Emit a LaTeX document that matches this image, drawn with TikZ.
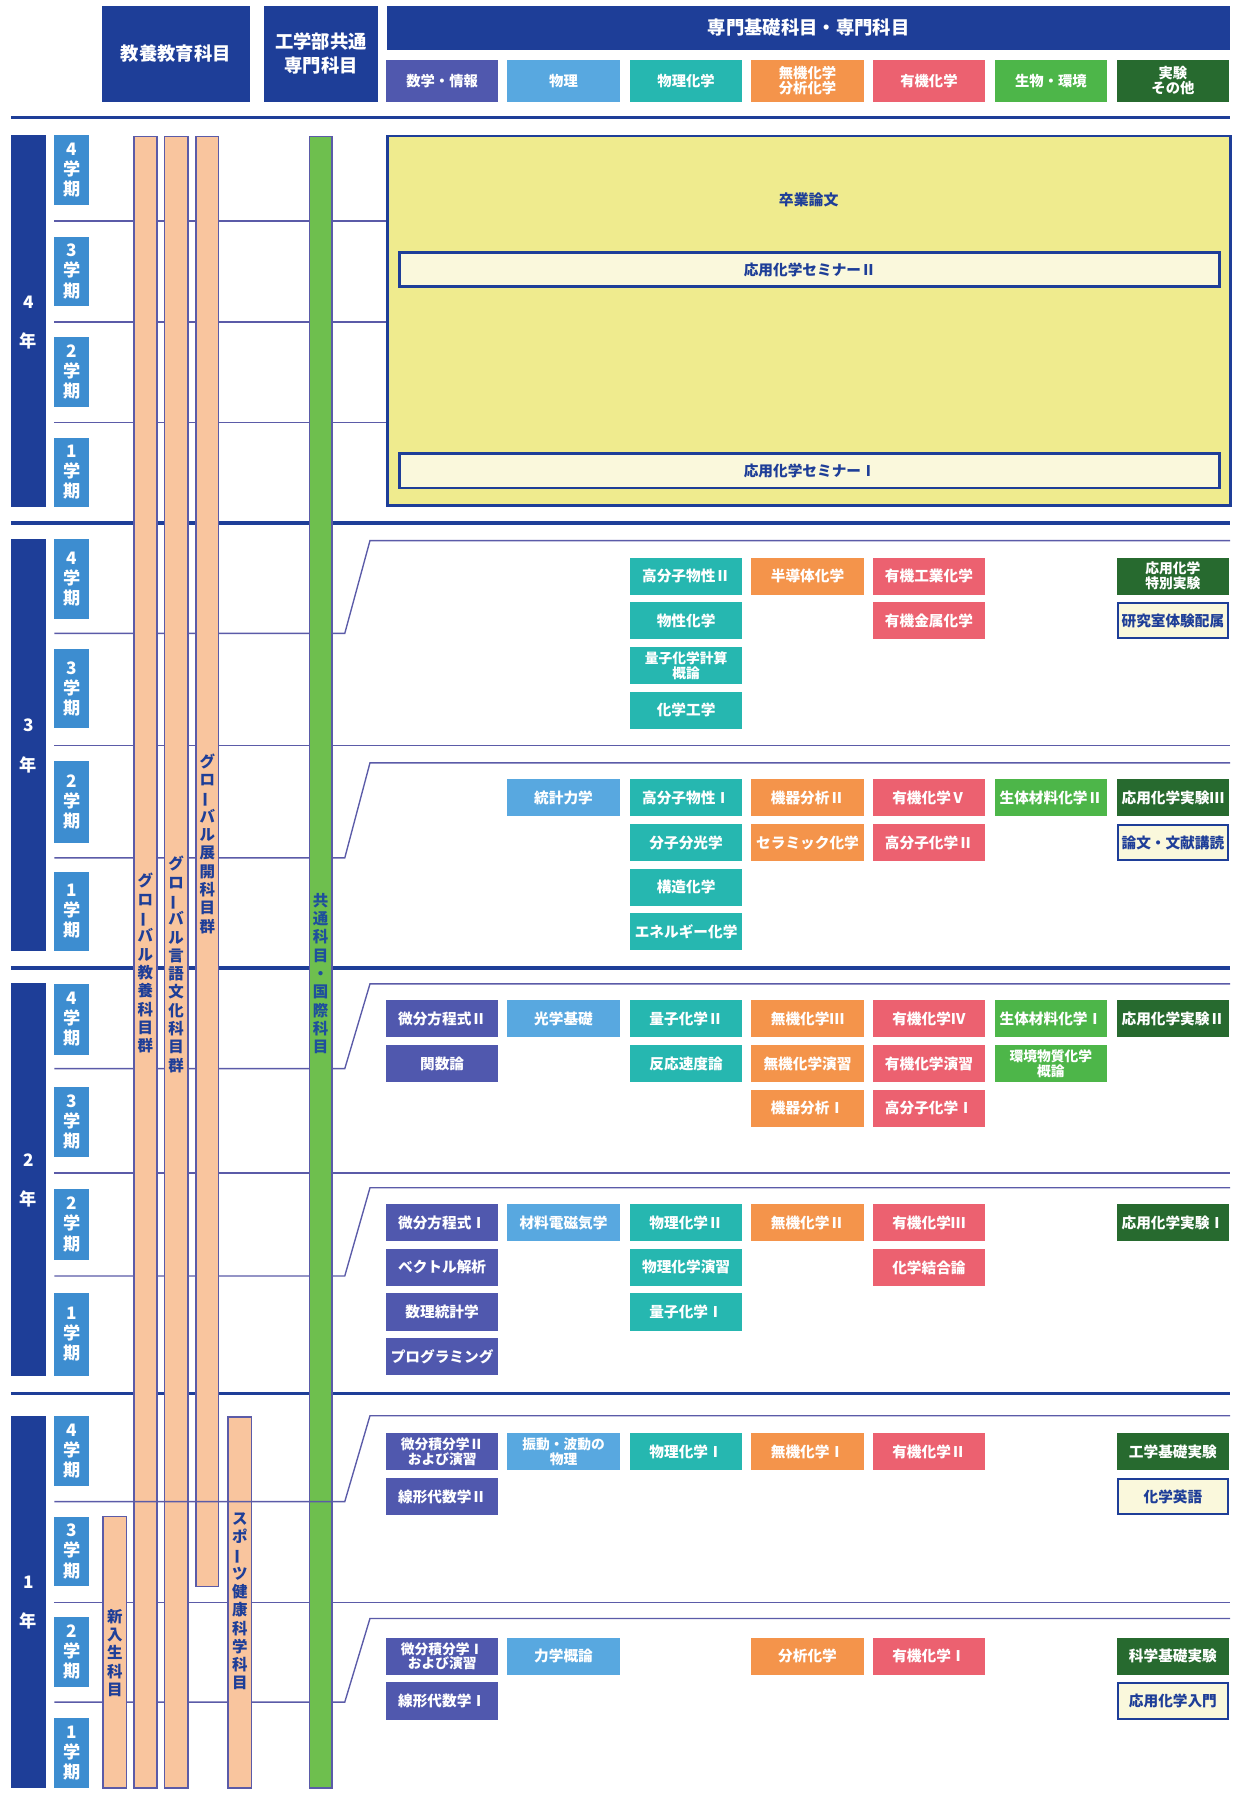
\documentclass[tikz,border=0pt]{standalone}
\usepackage{fontspec}
\setmainfont{Noto Sans CJK JP}
\definecolor{navy}{HTML}{1E3E98}
\definecolor{rule}{HTML}{5B5BA8}
\definecolor{semblue}{HTML}{3D8DD0}
\definecolor{cmath}{HTML}{5058AE}
\definecolor{cphys}{HTML}{58A8E0}
\definecolor{cpchem}{HTML}{26B7B0}
\definecolor{cinorg}{HTML}{F4944B}
\definecolor{corg}{HTML}{EC6170}
\definecolor{cbio}{HTML}{4DB649}
\definecolor{clab}{HTML}{276A2F}
\definecolor{peach}{HTML}{F9C59E}
\definecolor{barg}{HTML}{6EBF4E}
\definecolor{thesis}{HTML}{EFEB8E}
\definecolor{cream}{HTML}{FAF8DC}
\definecolor{kyotext}{HTML}{1E4F9C}
\newcommand{\tatebar}{\rotatebox[origin=c]{90}{ー}}

\begin{document}
\begin{tikzpicture}[x=1pt,y=-1pt]
\tikzstyle{every node}+=[inner sep=0pt]
\tikzstyle{hdr}=[fill=navy, text=white, align=center, font=\fontsize{16}{21}\selectfont\bfseries]
\tikzstyle{cat}=[minimum width=98pt, minimum height=37pt, align=center, text=white, font=\fontsize{12.5}{13.5}\selectfont\bfseries]
\tikzstyle{yearbar}=[fill=navy, minimum width=30.5pt]
\tikzstyle{yearlbl}=[text=white, font=\fontsize{15}{15}\selectfont\bfseries]
\tikzstyle{sembox}=[fill=semblue, minimum width=30.5pt, text=white, align=center, font=\fontsize{15}{17.5}\selectfont\bfseries]
\tikzstyle{crs}=[minimum width=98pt, minimum height=32.5pt, align=center, text=white, font=\fontsize{12.8}{13.5}\selectfont\bfseries]
\tikzstyle{mathbox}=[crs, fill=cmath]
\tikzstyle{physbox}=[crs, fill=cphys]
\tikzstyle{pchembox}=[crs, fill=cpchem]
\tikzstyle{inorgbox}=[crs, fill=cinorg]
\tikzstyle{orgbox}=[crs, fill=corg]
\tikzstyle{biobox}=[crs, fill=cbio]
\tikzstyle{labbox}=[crs, fill=clab]
\tikzstyle{notebox}=[crs, fill=cream, draw=navy, line width=1.8pt, text=navy, minimum width=96.2pt, minimum height=30.7pt]
\tikzstyle{vtext}=[text=navy, align=center, font=\fontsize{13.5}{16}\selectfont\bfseries]
\tikzstyle{divline}=[draw=rule, line width=1.2pt]
\tikzstyle{yearline}=[draw=navy, line width=3pt]
\tikzstyle{barline}=[draw=rule, line width=1.2pt]
\useasboundingbox (0,0) rectangle (1078,1568);

% header
\node[hdr, minimum width=129pt, minimum height=84pt] (kyoyohdr) at (153.5,47) {教養教育科目};
\node[hdr, minimum width=99.5pt, minimum height=84pt] (kougakuhdr) at (280.3,47) {工学部共通\\専門科目};
\node[hdr, minimum width=736pt, minimum height=38.5pt] (senmonhdr) at (706,24.3) {専門基礎科目・専門科目};
\node[cat, fill=cmath] (catmath) at (386,70.5) {数学・情報};
\node[cat, fill=cphys] (catphys) at (492,70.5) {物理};
\node[cat, fill=cpchem] (catpchem) at (599,70.5) {物理化学};
\node[cat, fill=cinorg] (catinorg) at (705,70.5) {無機化学\\分析化学};
\node[cat, fill=corg] (catorg) at (811,70.5) {有機化学};
\node[cat, fill=cbio] (catbio) at (917.5,70.5) {生物・環境};
\node[cat, fill=clab] (catlab) at (1024,70.5) {実験\\その他};

% year lines
\draw[yearline] (9.5,102.5) -- (1074,102.5);
\draw[yearline] (9.5,456.5) -- (1074,456.5);
\draw[yearline] (9.5,845) -- (1074,845);
\draw[yearline] (9.5,1216.5) -- (1074,1216.5);

% semester dividers
\draw[divline] (47.5,193) -- (338,193);
\draw[divline] (47.5,281) -- (338,281);
\draw[divline] (47.5,369) -- (338,369);
\draw[divline] (47.5,553) -- (301,553) -- (323,472) -- (1074,472);
\draw[divline] (47.5,651) -- (1074,651);
\draw[divline] (47.5,749) -- (301,749) -- (323,666) -- (1074,666);
\draw[divline] (47.5,933) -- (301,933) -- (323,859) -- (1074,859);
\draw[divline] (47.5,1024) -- (1074,1024);
\draw[divline] (47.5,1114) -- (301,1114) -- (323,1037) -- (1074,1037);
\draw[divline] (47.5,1399) -- (1074,1399);
\draw[divline] (47.5,1486) -- (301,1486) -- (323,1413) -- (1074,1413);

% subject group bars
\filldraw[barline, fill=peach] (117,119) rectangle (137,1561);
\filldraw[barline, fill=peach] (143.5,119) rectangle (164,1561);
\filldraw[barline, fill=peach] (171,119) rectangle (191,1385);
\filldraw[barline, fill=barg] (270,119) rectangle (290,1561);
\filldraw[barline, fill=peach] (90,1324) rectangle (110.5,1561);
\filldraw[barline, fill=peach] (199,1237) rectangle (219.5,1561);
\draw[divline] (47.5,1311) -- (301,1311) -- (323,1236) -- (1074,1236);

\node[vtext] (kyoyo) at (127,841) {グ\\ロ\\\tatebar\\バ\\ル\\教\\養\\科\\目\\群};
\node[vtext] (gengo) at (153.7,842) {グ\\ロ\\\tatebar\\バ\\ル\\言\\語\\文\\化\\科\\目\\群};
\node[vtext] (tenkai) at (181,736.5) {グ\\ロ\\\tatebar\\バ\\ル\\展\\開\\科\\目\\群};
\node[vtext, text=kyotext] (kyotsu) at (280,850) {共\\通\\科\\目\\・\\国\\際\\科\\目};
\node[vtext] (shinnyu) at (100.3,1443) {新\\入\\生\\科\\目};
\node[vtext] (sports) at (209.3,1398) {ス\\ポ\\\tatebar\\ツ\\健\\康\\科\\学\\科\\目};

% years
\node[yearbar, minimum height=325pt] (y4) at (24.8,280.5) {};
\node[yearlbl] (y4n) at (24.8,263.5) {4};
\node[yearlbl] (y4t) at (24.8,297.5) {年};
\node[yearbar, minimum height=359pt] (y3) at (24.8,650.5) {};
\node[yearlbl] (y3n) at (24.8,633.5) {3};
\node[yearlbl] (y3t) at (24.8,667.5) {年};
\node[yearbar, minimum height=343pt] (y2) at (24.8,1029.5) {};
\node[yearlbl] (y2n) at (24.8,1012.5) {2};
\node[yearlbl] (y2t) at (24.8,1046.5) {年};
\node[yearbar, minimum height=325pt] (y1) at (24.8,1398.5) {};
\node[yearlbl] (y1n) at (24.8,1381.5) {1};
\node[yearlbl] (y1t) at (24.8,1415.5) {年};

% semesters
\node[sembox, minimum height=61pt] (y4s4) at (62.8,148.5) {4\\学\\期};
\node[sembox, minimum height=60pt] (y4s3) at (62.8,237) {3\\学\\期};
\node[sembox, minimum height=61pt] (y4s2) at (62.8,324.5) {2\\学\\期};
\node[sembox, minimum height=61pt] (y4s1) at (62.8,412.5) {1\\学\\期};
\node[sembox, minimum height=69pt] (y3s4) at (62.8,505.5) {4\\学\\期};
\node[sembox, minimum height=69pt] (y3s3) at (62.8,601.5) {3\\学\\期};
\node[sembox, minimum height=72pt] (y3s2) at (62.8,700) {2\\学\\期};
\node[sembox, minimum height=69pt] (y3s1) at (62.8,795.5) {1\\学\\期};
\node[sembox, minimum height=62pt] (y2s4) at (62.8,890) {4\\学\\期};
\node[sembox, minimum height=61pt] (y2s3) at (62.8,979.5) {3\\学\\期};
\node[sembox, minimum height=62pt] (y2s2) at (62.8,1069) {2\\学\\期};
\node[sembox, minimum height=72pt] (y2s1) at (62.8,1165) {1\\学\\期};
\node[sembox, minimum height=61pt] (y1s4) at (62.8,1266.5) {4\\学\\期};
\node[sembox, minimum height=61pt] (y1s3) at (62.8,1354.5) {3\\学\\期};
\node[sembox, minimum height=61pt] (y1s2) at (62.8,1442.5) {2\\学\\期};
\node[sembox, minimum height=61pt] (y1s1) at (62.8,1530.5) {1\\学\\期};

% 4th year
\node[draw=navy, line width=2.5pt, fill=thesis, minimum width=736pt, minimum height=323pt] (sotsuron) at (706,280.2) {};
\node[text=navy, font=\fontsize{13}{13}\selectfont\bfseries] (sotsurontxt) at (706,174.5) {卒業論文};
\node[notebox, line width=2.5pt, minimum width=716pt, minimum height=30pt] (semi2) at (707,235.4) {応用化学セミナーⅡ};
\node[notebox, line width=2.5pt, minimum width=716pt, minimum height=30pt] (semi1) at (707,411) {応用化学セミナーⅠ};

% 3rd year, semesters 3-4
\node[pchembox] (y3u-c3-1) at (599,503) {高分子物性Ⅱ};
\node[pchembox] (y3u-c3-2) at (599,542) {物性化学};
\node[pchembox, font=\fontsize{12}{13}\selectfont\bfseries] (y3u-c3-3) at (599,581) {量子化学計算\\概論};
\node[pchembox] (y3u-c3-4) at (599,620) {化学工学};
\node[inorgbox] (y3u-c4-1) at (705,503) {半導体化学};
\node[orgbox] (y3u-c5-1) at (811,503) {有機工業化学};
\node[orgbox] (y3u-c5-2) at (811,542) {有機金属化学};
\node[labbox, font=\fontsize{12}{13}\selectfont\bfseries] (y3u-c7-1) at (1024,503) {応用化学\\特別実験};
\node[notebox] (y3u-c7-2) at (1024,542) {研究室体験配属};

% 3rd year, semesters 1-2
\node[physbox] (y3l-c2-1) at (492,696.5) {統計力学};
\node[pchembox] (y3l-c3-1) at (599,696.5) {高分子物性Ⅰ};
\node[pchembox] (y3l-c3-2) at (599,735.5) {分子分光学};
\node[pchembox] (y3l-c3-3) at (599,774.5) {構造化学};
\node[pchembox] (y3l-c3-4) at (599,813.5) {エネルギー化学};
\node[inorgbox] (y3l-c4-1) at (705,696.5) {機器分析Ⅱ};
\node[inorgbox] (y3l-c4-2) at (705,735.5) {セラミック化学};
\node[orgbox] (y3l-c5-1) at (811,696.5) {有機化学Ⅴ};
\node[orgbox] (y3l-c5-2) at (811,735.5) {高分子化学Ⅱ};
\node[biobox] (y3l-c6-1) at (917.5,696.5) {生体材料化学Ⅱ};
\node[labbox] (y3l-c7-1) at (1024,696.5) {応用化学実験Ⅲ};
\node[notebox] (y3l-c7-2) at (1024,735.5) {論文・文献講読};

% 2nd year, semesters 3-4
\node[mathbox] (y2u-c1-1) at (386,889.5) {微分方程式Ⅱ};
\node[mathbox] (y2u-c1-2) at (386,928.5) {関数論};
\node[physbox] (y2u-c2-1) at (492,889.5) {光学基礎};
\node[pchembox] (y2u-c3-1) at (599,889.5) {量子化学Ⅱ};
\node[pchembox] (y2u-c3-2) at (599,928.5) {反応速度論};
\node[inorgbox] (y2u-c4-1) at (705,889.5) {無機化学Ⅲ};
\node[inorgbox] (y2u-c4-2) at (705,928.5) {無機化学演習};
\node[inorgbox] (y2u-c4-3) at (705,967.5) {機器分析Ⅰ};
\node[orgbox] (y2u-c5-1) at (811,889.5) {有機化学Ⅳ};
\node[orgbox] (y2u-c5-2) at (811,928.5) {有機化学演習};
\node[orgbox] (y2u-c5-3) at (811,967.5) {高分子化学Ⅰ};
\node[biobox] (y2u-c6-1) at (917.5,889.5) {生体材料化学Ⅰ};
\node[biobox, font=\fontsize{12}{13}\selectfont\bfseries] (y2u-c6-2) at (917.5,928.5) {環境物質化学\\概論};
\node[labbox] (y2u-c7-1) at (1024,889.5) {応用化学実験Ⅱ};

% 2nd year, semesters 1-2
\node[mathbox] (y2l-c1-1) at (386,1067.5) {微分方程式Ⅰ};
\node[mathbox] (y2l-c1-2) at (386,1106.5) {ベクトル解析};
\node[mathbox] (y2l-c1-3) at (386,1145.5) {数理統計学};
\node[mathbox] (y2l-c1-4) at (386,1184.5) {プログラミング};
\node[physbox] (y2l-c2-1) at (492,1067.5) {材料電磁気学};
\node[pchembox] (y2l-c3-1) at (599,1067.5) {物理化学Ⅱ};
\node[pchembox] (y2l-c3-2) at (599,1106.5) {物理化学演習};
\node[pchembox] (y2l-c3-3) at (599,1145.5) {量子化学Ⅰ};
\node[inorgbox] (y2l-c4-1) at (705,1067.5) {無機化学Ⅱ};
\node[orgbox] (y2l-c5-1) at (811,1067.5) {有機化学Ⅲ};
\node[orgbox] (y2l-c5-2) at (811,1106.5) {化学結合論};
\node[labbox] (y2l-c7-1) at (1024,1067.5) {応用化学実験Ⅰ};

% 1st year, semesters 3-4
\node[mathbox, font=\fontsize{12}{13}\selectfont\bfseries] (y1u-c1-1) at (386,1267.5) {微分積分学Ⅱ\\および演習};
\node[mathbox] (y1u-c1-2) at (386,1306.5) {線形代数学Ⅱ};
\node[physbox, font=\fontsize{12}{13}\selectfont\bfseries] (y1u-c2-1) at (492,1267.5) {振動・波動の\\物理};
\node[pchembox] (y1u-c3-1) at (599,1267.5) {物理化学Ⅰ};
\node[inorgbox] (y1u-c4-1) at (705,1267.5) {無機化学Ⅰ};
\node[orgbox] (y1u-c5-1) at (811,1267.5) {有機化学Ⅱ};
\node[labbox] (y1u-c7-1) at (1024,1267.5) {工学基礎実験};
\node[notebox] (y1u-c7-2) at (1024,1306.5) {化学英語};

% 1st year, semesters 1-2
\node[mathbox, font=\fontsize{12}{13}\selectfont\bfseries] (y1l-c1-1) at (386,1446) {微分積分学Ⅰ\\および演習};
\node[mathbox] (y1l-c1-2) at (386,1485) {線形代数学Ⅰ};
\node[physbox] (y1l-c2-1) at (492,1446) {力学概論};
\node[inorgbox] (y1l-c4-1) at (705,1446) {分析化学};
\node[orgbox] (y1l-c5-1) at (811,1446) {有機化学Ⅰ};
\node[labbox] (y1l-c7-1) at (1024,1446) {科学基礎実験};
\node[notebox] (y1l-c7-2) at (1024,1485) {応用化学入門};
\end{tikzpicture}
\end{document}
